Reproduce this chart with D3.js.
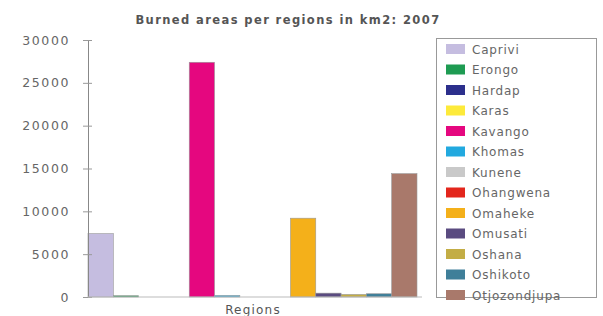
<!DOCTYPE html>
<html>
<head>
<meta charset="utf-8">
<script src="https://cdn.jsdelivr.net/npm/d3@7"></script>
<style>
body { margin: 0; background: #fff; }
text { font-family: "DejaVu Sans", Verdana, sans-serif; }
</style>
</head>
<body>
<div id="the_chart"></div>
<script>
var regions = ["Caprivi", "Erongo", "Hardap", "Karas", "Kavango", "Khomas", "Kunene",
               "Ohangwena", "Omaheke", "Omusati", "Oshana", "Oshikoto", "Otjozondjupa"];
var areas = [7400, 150, 0, 0, 27400, 180, 0, 0, 9200, 450, 300, 380, 14400];
var colors = ["#c5bde0", "#1e9b52", "#2c2f8c", "#fdea3a", "#e5077f", "#22a9df", "#c9c9c9",
              "#e3261c", "#f4b01a", "#5a4b80", "#c3ad45", "#3f7f99", "#a9796b"];
var yTicks = [0, 5000, 10000, 15000, 20000, 25000, 30000];

var w = 603, h = 316;
var svg = d3.select("#the_chart").append("svg")
    .attr("width", w).attr("height", h);

var padL = 88, padR = 417, padT = 40, padB = 297;

var xscale = d3.scaleBand().domain(regions).range([padL, padR]).padding(0);
var yscale = d3.scaleLinear().domain([0, 30000]).range([padB, padT]);

// title
svg.append("text")
    .attr("x", 288).attr("y", 24)
    .attr("text-anchor", "middle")
    .attr("font-size", 11.5).attr("font-weight", "bold")
    .attr("letter-spacing", 1.4)
    .attr("fill", "#555")
    .text("Burned areas per regions in km2: 2007");

// bars
svg.selectAll("rect.bar")
    .data(areas)
  .enter().append("rect")
    .attr("class", "bar")
    .attr("x", function(d, i) { return xscale(regions[i]); })
    .attr("width", xscale.bandwidth())
    .attr("y", function(d) { return yscale(d); })
    .attr("height", function(d) { return padB - yscale(d); })
    .attr("fill", function(d, i) { return colors[i]; })
    .attr("stroke", "#999")
    .attr("stroke-width", 0.6);

// y axis
var yaxis = d3.axisLeft(yscale).tickValues(yTicks).tickSize(5).tickFormat(d3.format("d"));
var gY = svg.append("g")
    .attr("transform", "translate(" + padL + ",0)")
    .call(yaxis);
gY.select(".domain").attr("stroke", "#888");
gY.selectAll(".tick line").attr("stroke", "#999").attr("x2", 4).attr("x1", -5);
gY.selectAll(".tick text")
    .attr("x", -18)
    .attr("font-size", 12.5)
    .attr("letter-spacing", 1.6)
    .attr("fill", "#666");

// x axis line
svg.append("line")
    .attr("x1", padL).attr("x2", padR + 5)
    .attr("y1", padB).attr("y2", padB)
    .attr("stroke", "#bbb");

svg.append("text")
    .attr("x", 253).attr("y", 314)
    .attr("text-anchor", "middle")
    .attr("font-size", 12).attr("letter-spacing", 1.2)
    .attr("fill", "#555")
    .text("Regions");

// legend
var lg = svg.append("g");
lg.append("rect")
    .attr("x", 436.5).attr("y", 38.5)
    .attr("width", 160).attr("height", 259)
    .attr("fill", "none").attr("stroke", "#999");

var ly = d3.scalePoint().domain(regions).range([49, 295]);
var items = lg.selectAll("g.item")
    .data(regions)
  .enter().append("g")
    .attr("class", "item")
    .attr("transform", function(d) { return "translate(0," + ly(d) + ")"; });
items.append("rect")
    .attr("x", 446).attr("y", -5)
    .attr("width", 19).attr("height", 10)
    .attr("fill", function(d, i) { return colors[i]; });
items.append("text")
    .attr("x", 472).attr("y", 4.5)
    .attr("font-size", 12).attr("letter-spacing", 0.8)
    .attr("fill", "#666")
    .text(function(d) { return d; });
</script>
</body>
</html>
